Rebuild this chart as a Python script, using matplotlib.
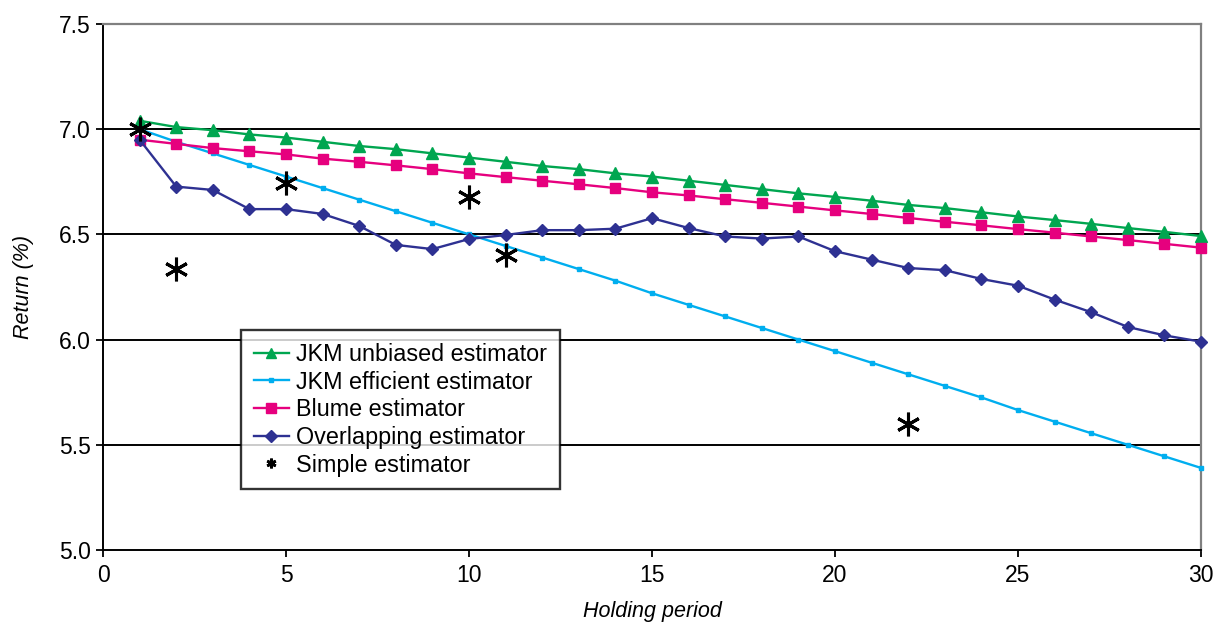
import matplotlib
matplotlib.use("Agg")
import matplotlib.pyplot as plt

plt.rcParams['font.family'] = ['Liberation Sans', 'DejaVu Sans']

periods = list(range(1, 31))
jkm_unbiased = [7.04, 7.01, 6.995, 6.975, 6.96, 6.94, 6.92, 6.905, 6.885, 6.865,
                6.845, 6.825, 6.81, 6.79, 6.775, 6.755, 6.735, 6.715, 6.695, 6.678,
                6.66, 6.64, 6.625, 6.605, 6.585, 6.568, 6.55, 6.53, 6.512, 6.492]
jkm_efficient = [7.00, 6.94, 6.885, 6.83, 6.775, 6.72, 6.665, 6.61, 6.555, 6.50,
                 6.445, 6.39, 6.335, 6.28, 6.22, 6.165, 6.11, 6.055, 6.00, 5.945,
                 5.89, 5.835, 5.78, 5.725, 5.665, 5.61, 5.555, 5.50, 5.445, 5.39]
blume = [6.95, 6.93, 6.91, 6.895, 6.88, 6.86, 6.845, 6.828, 6.81, 6.79,
         6.772, 6.755, 6.738, 6.72, 6.70, 6.685, 6.667, 6.65, 6.632, 6.614,
         6.597, 6.578, 6.56, 6.543, 6.525, 6.508, 6.49, 6.473, 6.455, 6.437]
overlapping = [6.95, 6.727, 6.711, 6.62, 6.62, 6.597, 6.54, 6.45, 6.43, 6.478,
               6.497, 6.52, 6.52, 6.527, 6.577, 6.53, 6.49, 6.48, 6.49, 6.42,
               6.38, 6.34, 6.33, 6.288, 6.256, 6.19, 6.13, 6.06, 6.02, 5.99]
simple_x = [1, 2, 5, 10, 11, 22]
simple_y = [7.0, 6.336, 6.746, 6.68, 6.40, 5.60]

x_ticks = [0, 5, 10, 15, 20, 25, 30]
y_ticks = [5.0, 5.5, 6.0, 6.5, 7.0, 7.5]

green = '#00A650'
lblue = '#00AEEF'
pink = '#E6007E'
navy = '#2E3192'

fig = plt.figure(figsize=(12.15, 6.24), dpi=100)
ax = fig.add_axes([0.0848, 0.1186, 0.9037, 0.843])

for yv in y_ticks[1:-1]:
    ax.axhline(yv, color='black', lw=1.4, zorder=1)

ax.plot(periods, jkm_unbiased, color=green, lw=1.7, marker='^', ms=8.5,
        label='JKM unbiased estimator', zorder=3, clip_on=False)
ax.plot(periods, jkm_efficient, color=lblue, lw=1.7, marker='s', ms=3,
        label='JKM efficient estimator', zorder=3, clip_on=False)
ax.plot(periods, blume, color=pink, lw=1.7, marker='s', ms=7.5,
        label='Blume estimator', zorder=3, clip_on=False)
ax.plot(periods, overlapping, color=navy, lw=1.7, marker='D', ms=6.5,
        label='Overlapping estimator', zorder=3, clip_on=False)
ax.plot(simple_x, simple_y, linestyle='none', color='black', marker=(6, 2, 0),
        ms=17, mew=2.2, label='Simple estimator', zorder=4, clip_on=False)

ax.set_xlim(0, 30)
ax.set_ylim(5.0, 7.5)
ax.set_xticks(x_ticks)
ax.set_yticks(y_ticks)
ax.set_yticklabels([f'{v:.1f}' for v in y_ticks])
ax.tick_params(axis='both', direction='out', length=5, width=1.3, labelsize=16.5,
               colors='black')
ax.tick_params(axis='x', pad=5)
ax.tick_params(axis='y', pad=4)

ax.spines['left'].set_color('black')
ax.spines['left'].set_linewidth(1.4)
ax.spines['bottom'].set_color('black')
ax.spines['bottom'].set_linewidth(1.4)
ax.spines['top'].set_color('#808080')
ax.spines['top'].set_linewidth(1.6)
ax.spines['right'].set_color('#808080')
ax.spines['right'].set_linewidth(1.6)

ax.set_xlabel('Holding period', fontsize=15.5, style='italic', labelpad=10)
ax.set_ylabel('Return (%)', fontsize=15.5, style='italic', labelpad=18)

mk_sizes = [7, 3, 7, 6, 7]
leg = ax.legend(loc='upper left', bbox_to_anchor=(0.1257, 0.418), borderaxespad=0,
                fontsize=16.8, frameon=True, fancybox=False, handlelength=1.5,
                handletextpad=0.3, labelspacing=0.2, borderpad=0.55)
for h, s in zip(leg.legend_handles, mk_sizes):
    h.set_markersize(s)
leg.legend_handles[-1].set_markeredgewidth(2.0)
leg.get_frame().set_edgecolor('black')
leg.get_frame().set_linewidth(1.7)
leg.set_zorder(5)

fig.savefig('out.png', dpi=100)
